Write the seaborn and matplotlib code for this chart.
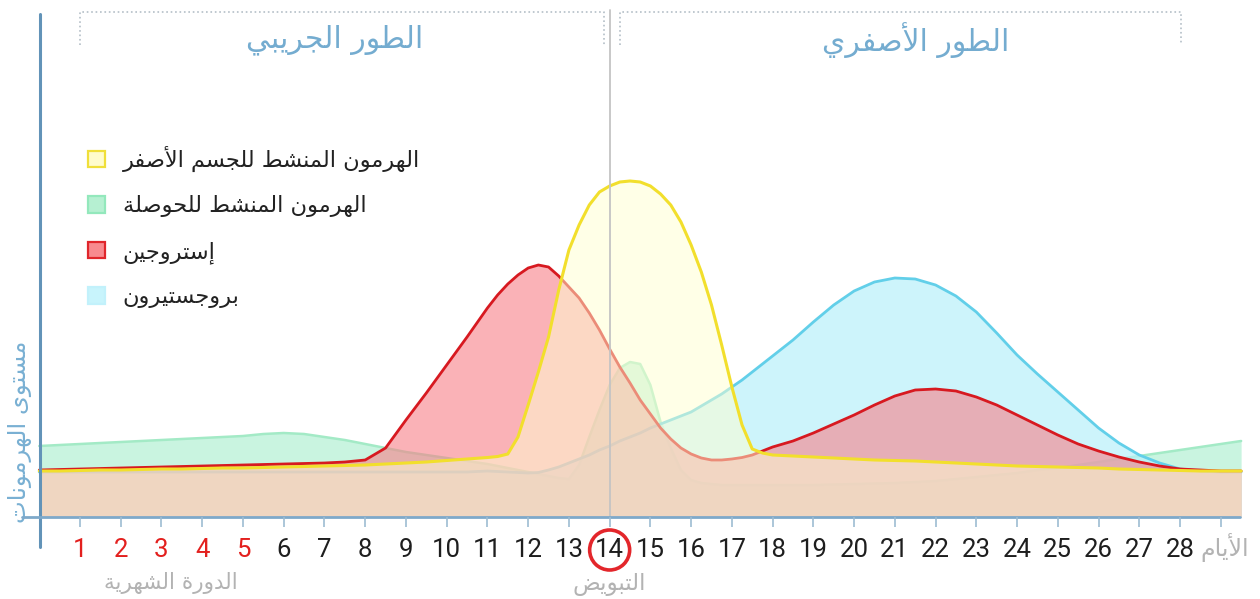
import numpy as np
import matplotlib
matplotlib.use("Agg")
import matplotlib.pyplot as plt
from matplotlib.patches import Patch, Ellipse
import seaborn as sns

# ── DATA (hormone level above the day axis) ──────────────────────────
days = np.concatenate([np.arange(0, 11, 0.5),
                       np.arange(11, 18, 0.25),
                       np.arange(18, 29.51, 0.5)])

fsh = [71, 72, 73, 74, 75, 76, 77, 78, 79, 80, 81, 83, 84, 83, 80, 77, 73, 69, 65, 62, 59, 56,
       53, 51, 49, 47, 45, 43, 41, 39, 38, 52, 80, 107, 132, 149, 155, 153, 132, 95, 69, 47, 37, 34,
       33, 32, 32, 32, 32, 32,
       32, 32, 32, 32.5, 33, 33.5, 34, 35, 36, 38, 40, 42, 44, 47, 49, 52, 55, 58, 61, 64, 67, 70, 73, 76]

lh = [46, 46, 46.5, 47, 47, 47.5, 48, 48, 48.5, 49, 49, 49.5, 50, 50.5, 51, 51.5, 52, 53, 54, 55, 56.5, 58,
      59.5, 60.5, 63, 80, 112, 145, 180, 227, 267, 292, 312, 325, 331, 335, 336, 335, 331, 323, 312, 295,
      272, 245, 212, 172, 130, 92, 68, 64,
      62, 61, 60, 59, 58, 57, 56.5, 56, 55, 54, 53, 52, 51, 50.5, 50, 49.5, 49, 48, 47.5, 47, 46.5, 46, 46, 46]

estrogen = [47, 47.5, 48, 48.5, 49, 49.5, 50, 50.5, 51, 51.5, 52, 52.5, 53, 53.5, 54, 55, 57, 69, 97, 124, 152, 180,
            209, 222, 233, 242, 249, 252, 250, 241, 230, 219, 204, 187, 168, 150, 134, 117, 103, 89, 78, 69,
            63, 59, 57, 57, 58, 59.5, 62, 66,
            70, 76, 84, 93, 102, 112, 121, 127, 128, 126, 120, 112, 102, 92, 82, 73, 66, 60, 55, 51, 48, 47, 46, 46]

progesterone = [45, 45, 45, 45, 45, 45, 45, 45, 45, 45, 45, 45, 45, 45, 45, 45, 45, 45, 45, 45, 45, 45,
                46, 45.5, 45, 44.5, 44, 44.5, 47, 50, 54, 58, 62, 67, 71, 76, 80, 84, 89, 93, 97, 101,
                105, 111, 117, 123, 130, 137, 145, 153,
                161, 177, 195, 212, 226, 235, 239, 238, 232, 221, 205, 184, 162, 143, 125, 107, 89, 74, 62, 54, 48, 46, 45, 45]

cycle_days = list(range(1, 29))
period_days = [1, 2, 3, 4, 5]
ovulation_day = 14

# ── minimal Arabic shaping (matplotlib has no joining / RTL) ──────────
FORMS = {  # isolated, final, initial, medial
    'ا': ('\uFE8D', '\uFE8E', None, None), 'أ': ('\uFE83', '\uFE84', None, None),
    'إ': ('\uFE87', '\uFE88', None, None), 'ب': ('\uFE8F', '\uFE90', '\uFE91', '\uFE92'),
    'ة': ('\uFE93', '\uFE94', None, None), 'ت': ('\uFE95', '\uFE96', '\uFE97', '\uFE98'),
    'ج': ('\uFE9D', '\uFE9E', '\uFE9F', '\uFEA0'), 'ح': ('\uFEA1', '\uFEA2', '\uFEA3', '\uFEA4'),
    'د': ('\uFEA9', '\uFEAA', None, None), 'ر': ('\uFEAD', '\uFEAE', None, None),
    'س': ('\uFEB1', '\uFEB2', '\uFEB3', '\uFEB4'), 'ش': ('\uFEB5', '\uFEB6', '\uFEB7', '\uFEB8'),
    'ص': ('\uFEB9', '\uFEBA', '\uFEBB', '\uFEBC'), 'ض': ('\uFEBD', '\uFEBE', '\uFEBF', '\uFEC0'),
    'ط': ('\uFEC1', '\uFEC2', '\uFEC3', '\uFEC4'), 'ف': ('\uFED1', '\uFED2', '\uFED3', '\uFED4'),
    'ل': ('\uFEDD', '\uFEDE', '\uFEDF', '\uFEE0'), 'م': ('\uFEE1', '\uFEE2', '\uFEE3', '\uFEE4'),
    'ن': ('\uFEE5', '\uFEE6', '\uFEE7', '\uFEE8'), 'ه': ('\uFEE9', '\uFEEA', '\uFEEB', '\uFEEC'),
    'و': ('\uFEED', '\uFEEE', None, None), 'ى': ('\uFEEF', '\uFEF0', None, None),
    'ي': ('\uFEF1', '\uFEF2', '\uFEF3', '\uFEF4'),
}
LAM_ALEF = {'ا': ('\uFEFB', '\uFEFC'), 'أ': ('\uFEF7', '\uFEF8'), 'إ': ('\uFEF9', '\uFEFA')}


def dual(c):
    return c in FORMS and FORMS[c][2] is not None


def ar(text):
    out, i, n = [], 0, len(text)
    while i < n:
        c = text[i]
        if c not in FORMS:
            out.append(c); i += 1; continue
        jp = i > 0 and dual(text[i - 1])
        if c == 'ل' and i + 1 < n and text[i + 1] in LAM_ALEF:
            out.append(LAM_ALEF[text[i + 1]][1 if jp else 0]); i += 2; continue
        jn = dual(c) and i + 1 < n and text[i + 1] in FORMS
        iso, fin, ini, med = FORMS[c]
        out.append(med if jp and jn else fin if jp else ini if jn else iso)
        i += 1
    return ''.join(reversed(out))


# ── FIGURE ───────────────────────────────────────────────────────────
sns.set_theme(style="white")
plt.rcParams['font.family'] = ['DejaVu Sans']

fig = plt.figure(figsize=(12.6, 5.99), dpi=100)
ax = fig.add_axes([0, 0, 1, 1])
ax.set_xlim(-0.964, 29.963)
ax.set_ylim(-82, 517)
ax.axis('off')

series = [  # values, fill, alpha, line colour, line width
    (fsh,          '#b3f0d4', 0.70, '#a3eac6', 1.8),
    (progesterone, '#b8f0fa', 0.70, '#62cfe9', 2.0),
    (estrogen,     '#f78088', 0.60, '#d71920', 2.0),
    (lh,           '#ffffd1', 0.50, '#f2df2c', 2.2),
]
for z, (vals, fc, a, lc, lw) in enumerate(series, start=1):
    ax.fill_between(days, 0, vals, color=fc, alpha=a, lw=0, zorder=z)
    sns.lineplot(x=days, y=vals, ax=ax, color=lc, linewidth=lw, zorder=z + 0.5,
                 estimator=None, sort=False, solid_joinstyle='round', solid_capstyle='round')

# ovulation marker line
ax.plot([ovulation_day, ovulation_day], [0, 507], color='#c4c4c4', lw=1.3, zorder=6)

# axes
ax.plot([0.02, 0.02], [503, -30], color='#6293b8', lw=2.2, zorder=7)
ax.plot([-0.42, 29.47], [0, 0], color='#7ea9ca', lw=2, zorder=7)
ax.vlines(cycle_days + [29], -10, 0, color='#9dbcd2', lw=1.2, zorder=7)

for d in cycle_days:
    ax.text(d, -33, str(d), ha='center', va='center', fontsize=18.5, family='Roboto',
            color='#e3201e' if d in period_days else '#1e1e1e')
ax.add_patch(Ellipse((ovulation_day, -33), 40 / 40.74, 40, fill=False,
                     ec='#e3262b', lw=2.6, zorder=8))

grey = '#b3b3b3'
ax.text(29.1, -31, ar('الأيام'), ha='center', va='center', fontsize=17, color=grey)
ax.text(3.23, -66, ar('الدورة الشهرية'), ha='center', va='center', fontsize=15.5, color=grey)
ax.text(ovulation_day, -68, ar('التبويض'), ha='center', va='center', fontsize=16.5, color=grey)
ax.text(-0.47, 85, ar('مستوى الهرمونات'), ha='center', va='center', fontsize=17.5,
        rotation=90, color='#79b0d3')

# phase brackets + titles
bcol = '#b4bfc7'
for x0, x1 in [(1, 13.85), (14.25, 28.02)]:
    ax.plot([x0, x0, x1, x1], [472, 505, 505, 472], color=bcol, lw=1.2, ls=':', zorder=7)
ax.text(7.26, 477, ar('الطور الجريبي'), ha='center', va='center', fontsize=21.5, color='#74acd0')
ax.text(21.5, 477, ar('الطور الأصفري'), ha='center', va='center', fontsize=21.5, color='#74acd0')

# legend
handles = [
    Patch(fc='#fffccc', ec='#f0df3a', lw=1.6),
    Patch(fc='#b6f0d2', ec='#93e8bc', lw=1.6),
    Patch(fc='#f88a8f', ec='#e0262c', lw=1.6),
    Patch(fc='#c8f4fc', ec='#c2f1fb', lw=1.6),
]
labels = [ar('الهرمون المنشط للجسم الأصفر'), ar('الهرمون المنشط للحوصلة'),
          ar('إستروجين'), ar('بروجستيرون')]
leg = ax.legend(handles, labels, loc='upper left', bbox_to_anchor=(81 / 1260, 1 - 139 / 599),
                bbox_transform=fig.transFigure, frameon=False, fontsize=16.2,
                handlelength=0.75, handleheight=0.75, handletextpad=0.8,
                labelspacing=1.05, borderpad=0.3, borderaxespad=0)
for t in leg.get_texts():
    t.set_color('#222222')
leg.set_zorder(9)

fig.savefig('out.png', dpi=100)
